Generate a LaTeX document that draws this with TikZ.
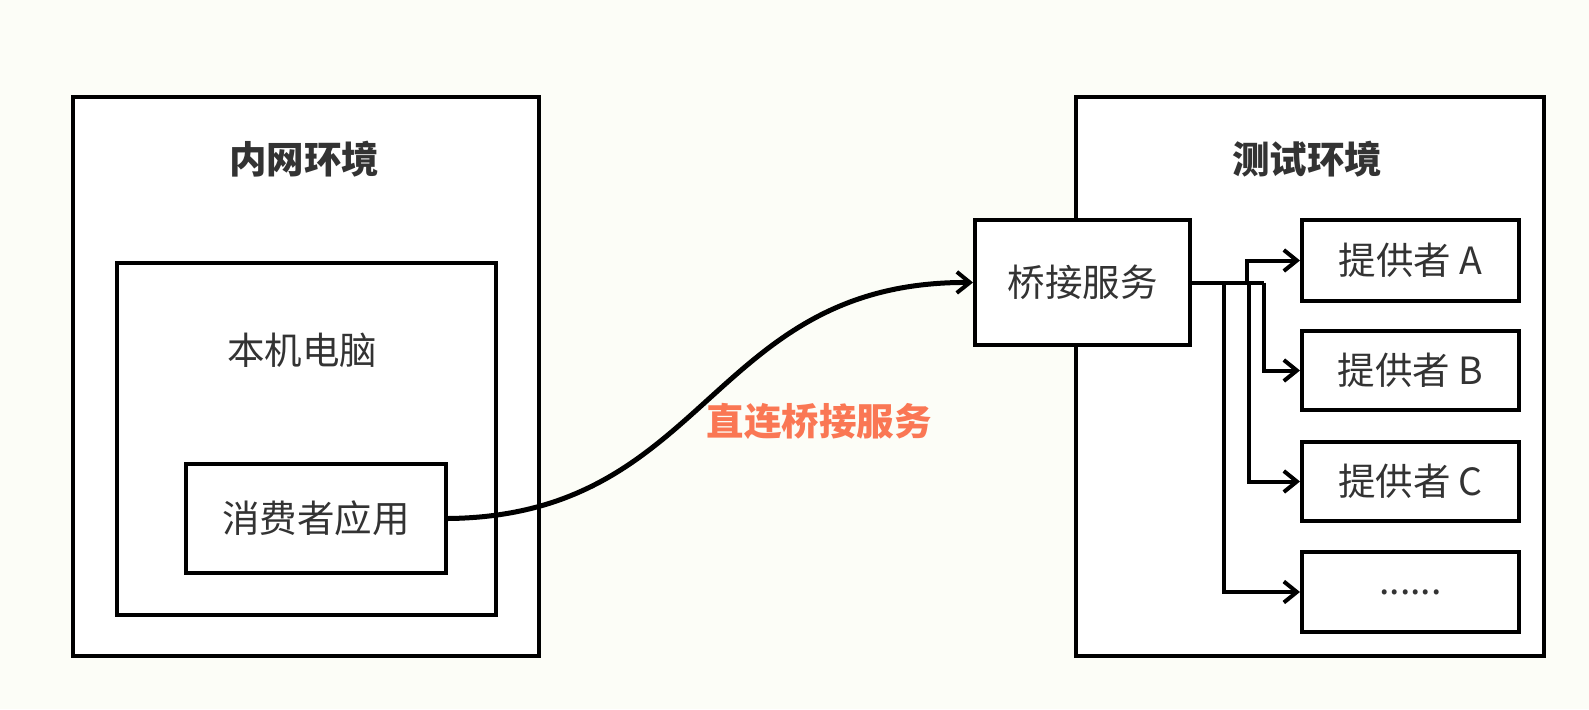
\documentclass[tikz,border=0pt]{standalone}
\usepackage{fontspec}
\setmainfont{Noto Sans CJK SC}
\usetikzlibrary{arrows.meta}
\definecolor{bg}{HTML}{FCFDF7}
\definecolor{lbl}{HTML}{FA7754}
\definecolor{ink}{HTML}{333333}
\begin{document}
\begin{tikzpicture}[x=1pt,y=-1pt,
  box/.style={draw=black, line width=4pt, fill=white, inner sep=0pt, anchor=north west},
  txt/.style={font=\fontsize{37.5}{44}\selectfont, text=ink, inner sep=0pt},
  ttl/.style={font=\fontsize{37.5}{44}\selectfont\bfseries, text=ink, inner sep=0pt},
  conn/.style={draw=black, line width=4pt},
  arr/.style={conn, -{Straight Barb[length=13pt,width=21pt,line width=4pt]}}]
\fill[bg] (0,0) rectangle (1589,709);
\useasboundingbox (0,0) rectangle (1589,709);
% left side
\node[box, minimum width=466pt, minimum height=559pt] (lan) at (71,95) {};
\node[ttl] (lanT) at (304,159) {内网环境};
\node[box, minimum width=379pt, minimum height=352pt] (pc) at (115,261) {};
\node[txt] (pcT) at (302,350) {本机电脑};
\node[box, minimum width=260pt, minimum height=109pt] (cons) at (184,462) {};
\node[txt] (consT) at (cons.center) {消费者应用};
% right side
\node[box, minimum width=468pt, minimum height=559pt] (test) at (1074,95) {};
\node[ttl] (testT) at (1307,159) {测试环境};
\node[box, minimum width=215pt, minimum height=125pt] (bridge) at (973,218) {};
\node[txt] (bridgeT) at (bridge.center) {桥接服务};
\node[box, minimum width=217pt, minimum height=81pt] (pA) at (1300,218) {};
\node[txt] at (pA.center) {提供者 A};
\node[box, minimum width=217pt, minimum height=79pt] (pB) at (1300,329) {};
\node[txt] at (pB.center) {提供者 B};
\node[box, minimum width=217pt, minimum height=79pt] (pC) at (1300,440) {};
\node[txt] at (pC.center) {提供者 C};
\node[box, minimum width=217pt, minimum height=80pt] (pD) at (1300,550) {};
\node[txt] at (pD.center) {......};
% curve
\draw[arr, line width=5pt] (cons.east) .. controls (709,516) and (709,281) .. (bridge.west);
\node[ttl, text=lbl] (lbl) at (819,421) {直连桥接服务};
% branches
\draw[conn] (bridge.east) -- ++(72,0);
\draw[arr] ([xshift=55pt]bridge.east) |- (pA.west);
\draw[arr] ([xshift=72pt]bridge.east) |- (pB.west);
\draw[arr] ([xshift=57pt]bridge.east) |- (pC.west);
\draw[arr] ([xshift=32pt]bridge.east) |- (pD.west);
\end{tikzpicture}
\end{document}
